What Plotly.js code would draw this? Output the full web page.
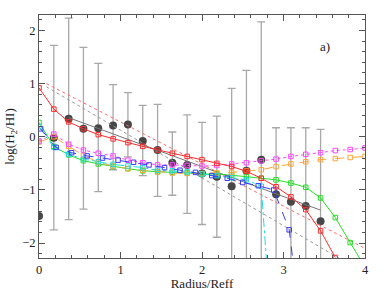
<!DOCTYPE html>
<html><head><meta charset="utf-8">
<script src="https://cdn.plot.ly/plotly-3.0.1.min.js"></script>
<style>html,body{margin:0;padding:0;background:#fff}</style>
</head><body>
<div id="chart" style="width:389px;height:291px"></div>
<script>
// grid of radii (step 2/11)
const xGrid = [0,0.182,0.364,0.545,0.727,0.909,1.091,1.273,1.455,1.636,1.818,2.0,2.182,2.364,2.545,2.727,2.909,3.091,3.273,3.455,3.636,3.818,4.0];
// mean points with error bars
const dotX = xGrid.slice(0,20);
const dotY = [-1.49,-0.02,0.34,0.15,0.16,0.21,0.23,-0.08,-0.25,-0.49,-0.53,-0.69,-0.75,-0.93,-0.64,-0.43,-1.08,-1.22,-1.30,-1.59];
const errTop = [null,1.72,2.23,1.68,1.38,0.98,0.83,0.59,0.61,0.09,0.41,0.27,0.39,0.91,1.25,2.16,0.17,0.17,0.17,0.14];
const errBot = [null,-1.75,-1.56,-1.36,-1.03,-0.62,-0.38,-0.73,-1.12,-1.10,-1.44,-1.65,-1.89,-3,-3,-3,-3,-3,-3,-3];
// model curves
const redY = [0.92,0.52,0.28,0.15,0.04,-0.04,-0.11,-0.18,-0.25,-0.31,-0.37,-0.43,-0.50,-0.56,-0.65,-0.78,-0.94,-1.13,-1.37,-1.77,-2.27];
const magentaY = [-0.08,0.05,-0.14,-0.25,-0.31,-0.36,-0.44,-0.49,-0.53,-0.53,-0.54,-0.55,-0.54,-0.51,-0.49,-0.45,-0.42,-0.37,-0.33,-0.30,-0.26,-0.24,-0.21];
const orangeY = [-0.10,0.0,-0.18,-0.35,-0.48,-0.55,-0.60,-0.63,-0.66,-0.68,-0.69,-0.69,-0.68,-0.67,-0.64,-0.62,-0.56,-0.51,-0.47,-0.43,-0.41,-0.39,-0.37];
const greenY = [0.27,-0.18,-0.34,-0.45,-0.51,-0.56,-0.60,-0.64,-0.66,-0.67,-0.68,-0.70,-0.70,-0.72,-0.75,-0.78,-0.81,-0.87,-0.95,-1.15,-1.52,-1.99,-2.45];
const cyanY = [0.19,-0.20,-0.33,-0.42,-0.47,-0.52,-0.55,-0.58,-0.63,-0.64,-0.66,-0.70,-0.73,-0.77,-0.81,-0.93,-4.9];
const blueX = [0.02,0.21,0.40,0.59,0.78,0.97,1.16,1.35,1.54,1.73,1.92,2.12,2.31,2.50,2.69,2.88,3.07,3.27];
const blueY = [0.15,-0.20,-0.30,-0.36,-0.40,-0.44,-0.48,-0.53,-0.58,-0.63,-0.67,-0.73,-0.78,-0.86,-0.92,-1.00,-1.75,-4.3];
// straight fits
const fitX = [0.364,3.455], fitY = [0.36,-1.38];
const greyDotX = [0.09,3.70], greyDotY = [0.94,-2.30];
const redDotX = [0.09,4.0], redDotY = [1.00,-2.10];

const up = dotY.map((v,i)=> errTop[i]===null?0:errTop[i]-v);
const dn = dotY.map((v,i)=> errBot[i]===null?0:v-errBot[i]);

function curve(x,y,color,dash){
  return {x:x,y:y,type:'scatter',mode:'lines+markers',showlegend:false,
    line:{color:color,width:1,dash:dash},
    marker:{symbol:'square-open',size:4.5,color:color,line:{width:1,color:color}}};
}
const traces = [
  {x:dotX,y:dotY,type:'scatter',mode:'markers',showlegend:false,
   marker:{size:8,color:'#474747'},
   error_y:{type:'data',symmetric:false,array:up,arrayminus:dn,color:'#a8a8a8',thickness:1.3,width:4}},
  {x:greyDotX,y:greyDotY,type:'scatter',mode:'lines',line:{color:'#999',width:1,dash:'dot'},showlegend:false},
  {x:redDotX,y:redDotY,type:'scatter',mode:'lines',line:{color:'#ff6a6a',width:1,dash:'dot'},showlegend:false},
  {x:fitX,y:fitY,type:'scatter',mode:'lines',line:{color:'#777',width:1},showlegend:false},
  curve(xGrid.slice(0,greenY.length),greenY,'#22e022','solid'),
  curve(xGrid.slice(0,orangeY.length),orangeY,'#ffa533','dash'),
  curve(xGrid.slice(0,magentaY.length),magentaY,'#ff44ff','dot'),
  curve(xGrid.slice(0,cyanY.length),cyanY,'#22dddd','dashdot'),
  curve(blueX,blueY,'#3a3aff','dash'),
  curve(xGrid.slice(0,redY.length),redY,'#ff2a2a','solid')
];
const fnt = {family:'Liberation Serif, serif',size:13,color:'#222'};
const tfnt = {family:'Liberation Serif, serif',size:12.5,color:'#222'};
const axisBase = {showgrid:false,zeroline:false,showline:true,linecolor:'#555',linewidth:1,mirror:'allticks',
  ticks:'inside',ticklen:6,tickcolor:'#555',tickwidth:1,tickfont:tfnt};
const layout = {
  width:389,height:291,margin:{l:39,r:24,t:15,b:33},
  paper_bgcolor:'#fff',plot_bgcolor:'#fff',
  xaxis:Object.assign({},axisBase,{range:[0,4],dtick:1,tick0:0,
    minor:{dtick:0.2,ticklen:3,ticks:'inside',tickcolor:'#555'},
    title:{text:'Radius/Reff',font:fnt,standoff:7}}),
  yaxis:Object.assign({},axisBase,{range:[-2.28,2.29],dtick:1,tick0:0,
    minor:{dtick:0.2,ticklen:3,ticks:'inside',tickcolor:'#555'},
    title:{text:'log(H<sub>2</sub>/HI)',font:fnt,standoff:4}}),
  annotations:[{xref:'paper',yref:'paper',x:0.90,y:0.91,text:'a)',showarrow:false,font:fnt}]
};
Plotly.newPlot('chart',traces,layout,{staticPlot:true,displayModeBar:false});
</script>
</body></html>
